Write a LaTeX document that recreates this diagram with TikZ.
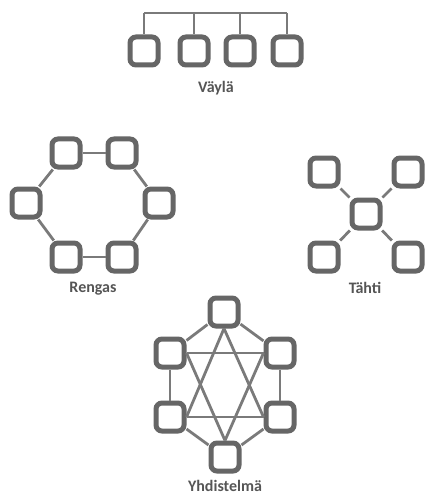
\documentclass[tikz,border=0pt]{standalone}
\usepackage{fontspec}
\setmainfont{Carlito}
\begin{document}
\begin{tikzpicture}[x=1pt,y=-1pt,
  dev/.style={draw=boxgray,line width=5pt,fill=white,rounded corners=6pt,minimum size=28pt,inner sep=0pt},
  link/.style={draw=linegray,line width=2.8pt},
  lbl/.style={text=labelgray,font=\bfseries\fontsize{16}{18}\selectfont,inner sep=0pt}]
\definecolor{boxgray}{HTML}{666666}
\definecolor{linegray}{HTML}{7A7A7A}
\definecolor{labelgray}{HTML}{555555}
\useasboundingbox (0,0) rectangle (427,497);
% Bus
\coordinate (t1) at (144,13);
\coordinate (t2) at (194,13);
\coordinate (t3) at (240,13);
\coordinate (t4) at (287,13);
\node[dev] (b1) at (144,51) {};
\node[dev] (b2) at (194,51) {};
\node[dev] (b3) at (240,51) {};
\node[dev] (b4) at (287,51) {};
\draw[link] (t1) -- (t4);
\foreach \i in {1,...,4} \draw[link] (t\i) -- (b\i);
\node[lbl] (lbus) at (216,88) {Väylä};
% Ring
\node[dev] (r1) at (66,153) {};
\node[dev] (r2) at (122,153) {};
\node[dev] (r3) at (159,203) {};
\node[dev] (r4) at (122,257) {};
\node[dev] (r5) at (66,257) {};
\node[dev] (r6) at (26,203) {};
\draw[link] (r1) -- (r2);
\draw[link] (r2) -- (r3);
\draw[link] (r3) -- (r4);
\draw[link] (r4) -- (r5);
\draw[link] (r5) -- (r6);
\draw[link] (r6) -- (r1);
\node[lbl] (lring) at (93,289) {Rengas};
% Star
\node[dev] (sc) at (366,214) {};
\node[dev] (s1) at (324,172) {};
\node[dev] (s2) at (408,172) {};
\node[dev] (s3) at (324,257) {};
\node[dev] (s4) at (408,257) {};
\foreach \i in {1,...,4} \draw[link] (sc) -- (s\i);
\node[lbl] (lstar) at (365,288) {Tähti};
% Mesh
\node[dev] (m1) at (224,312) {};
\node[dev] (m2) at (280,353) {};
\node[dev] (m3) at (280,417) {};
\node[dev] (m4) at (225,457) {};
\node[dev] (m5) at (170,417) {};
\node[dev] (m6) at (170,353) {};
\draw[link] (m1) -- (m2);
\draw[link] (m2) -- (m3);
\draw[link] (m3) -- (m4);
\draw[link] (m4) -- (m5);
\draw[link] (m5) -- (m6);
\draw[link] (m6) -- (m1);
\draw[link] (m1.south) -- (m3.west);
\draw[link] (m3.west) -- (m5.east);
\draw[link] (m5.east) -- (m1.south);
\draw[link] (m2.west) -- (m4.north);
\draw[link] (m4.north) -- (m6.east);
\draw[link] (m6.east) -- (m2.west);
\node[lbl] (lmesh) at (225,486) {Yhdistelmä};
\end{tikzpicture}
\end{document}
